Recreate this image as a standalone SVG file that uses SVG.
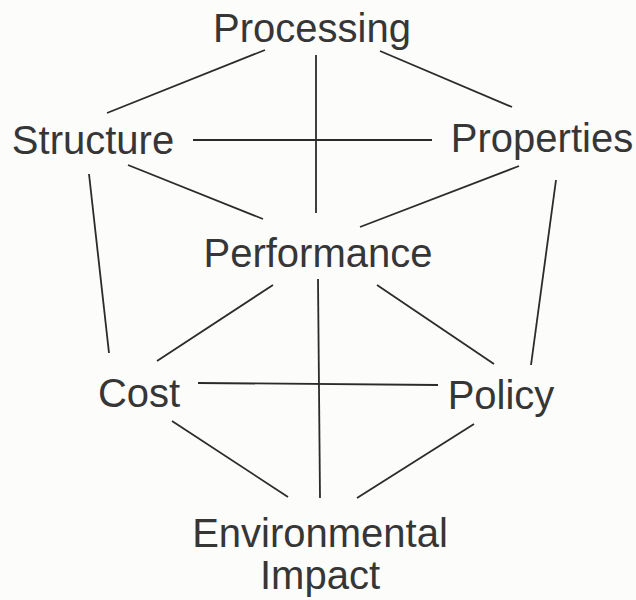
<svg xmlns="http://www.w3.org/2000/svg" width="636" height="600" viewBox="0 0 636 600">
  <style>
    .label { font-family: "Liberation Sans", Arial, Helvetica, sans-serif; font-size: 40px; fill: #363636; text-anchor: middle; }
    .link { stroke: #2b2b2b; stroke-width: 1.8; stroke-linecap: butt; fill: none; }
  </style>
  <rect width="636" height="600" fill="#fcfcfb"/>

  <g id="connectors">
    <!-- Processing -->
    <line class="link" x1="265" y1="50" x2="107" y2="113"/>
    <line class="link" x1="316" y1="55" x2="316" y2="213"/>
    <line class="link" x1="380" y1="51" x2="512" y2="107"/>
    <!-- Structure / Properties -->
    <line class="link" x1="193" y1="140" x2="432" y2="140"/>
    <line class="link" x1="128" y1="165" x2="263" y2="219"/>
    <line class="link" x1="519" y1="166" x2="360" y2="227"/>
    <line class="link" x1="89" y1="174" x2="109" y2="353"/>
    <line class="link" x1="556" y1="180" x2="531" y2="365"/>
    <!-- Performance -->
    <line class="link" x1="273" y1="285" x2="157" y2="361"/>
    <line class="link" x1="318" y1="279" x2="320" y2="498"/>
    <line class="link" x1="377" y1="285" x2="494" y2="364"/>
    <!-- Cost / Policy -->
    <line class="link" x1="198" y1="383" x2="438" y2="385"/>
    <line class="link" x1="172" y1="421" x2="288" y2="497"/>
    <line class="link" x1="474" y1="424" x2="357" y2="498"/>
  </g>

  <g id="processing"><text class="label" x="312" y="42">Processing</text></g>
  <g id="structure"><text class="label" x="93" y="154">Structure</text></g>
  <g id="properties"><text class="label" x="542" y="152">Properties</text></g>
  <g id="performance"><text class="label" x="318" y="267">Performance</text></g>
  <g id="cost"><text class="label" x="139" y="407">Cost</text></g>
  <g id="policy"><text class="label" x="501" y="409">Policy</text></g>
  <g id="environmental-impact">
    <text class="label" x="320" y="547">Environmental</text>
    <text class="label" x="320" y="589">Impact</text>
  </g>
</svg>
